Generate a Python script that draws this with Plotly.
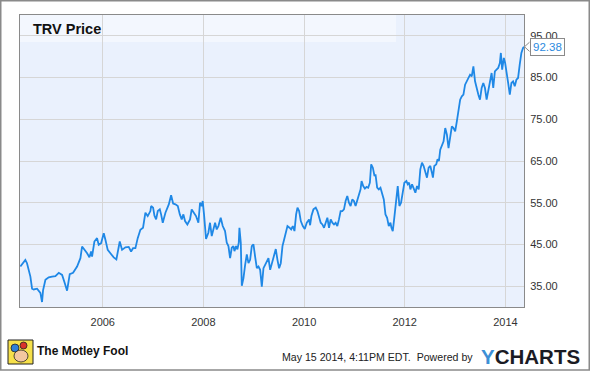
import datetime as dt
import plotly.graph_objects as go

# ---- data (decimal year, price) ----
years = [
    2004.364, 2004.430, 2004.463, 2004.496, 2004.530, 2004.563, 2004.596, 2004.629, 2004.695, 2004.728,
    2004.761, 2004.794, 2004.814, 2004.861, 2004.927, 2004.993, 2005.059, 2005.126, 2005.192, 2005.238,
    2005.291, 2005.344, 2005.410, 2005.490, 2005.556, 2005.589, 2005.642, 2005.689, 2005.735, 2005.768,
    2005.788, 2005.834, 2005.887, 2005.920, 2005.967, 2006.020, 2006.053, 2006.099, 2006.152, 2006.218,
    2006.271, 2006.338, 2006.384, 2006.450, 2006.516, 2006.563, 2006.602, 2006.649, 2006.695, 2006.748,
    2006.801, 2006.848, 2006.894, 2006.947, 2006.962, 2007.001, 2007.028, 2007.061, 2007.094, 2007.134,
    2007.160, 2007.193, 2007.246, 2007.280, 2007.313, 2007.359, 2007.399, 2007.445, 2007.492, 2007.532,
    2007.570, 2007.603, 2007.636, 2007.682, 2007.735, 2007.768, 2007.815, 2007.854, 2007.901, 2007.934,
    2007.967, 2007.987, 2008.013, 2008.033, 2008.053, 2008.099, 2008.132, 2008.166, 2008.199, 2008.232,
    2008.265, 2008.298, 2008.344, 2008.384, 2008.430, 2008.464, 2008.497, 2008.530, 2008.563, 2008.596,
    2008.616, 2008.649, 2008.675, 2008.702, 2008.715, 2008.742, 2008.762, 2008.795, 2008.828, 2008.861,
    2008.894, 2008.927, 2008.960, 2008.993, 2009.026, 2009.060, 2009.093, 2009.126, 2009.159, 2009.192,
    2009.225, 2009.258, 2009.291, 2009.325, 2009.358, 2009.391, 2009.437, 2009.470, 2009.503, 2009.536,
    2009.570, 2009.603, 2009.642, 2009.669, 2009.709, 2009.742, 2009.775, 2009.808, 2009.841, 2009.868,
    2009.901, 2009.934, 2009.974, 2010.013, 2010.053, 2010.099, 2010.119, 2010.145, 2010.185, 2010.231,
    2010.264, 2010.297, 2010.330, 2010.363, 2010.396, 2010.429, 2010.462, 2010.495, 2010.528, 2010.561,
    2010.594, 2010.627, 2010.660, 2010.693, 2010.726, 2010.759, 2010.792, 2010.825, 2010.858, 2010.891,
    2010.924, 2010.957, 2010.990, 2011.023, 2011.056, 2011.089, 2011.122, 2011.142, 2011.175, 2011.208,
    2011.241, 2011.274, 2011.307, 2011.333, 2011.366, 2011.399, 2011.419, 2011.452, 2011.485, 2011.518,
    2011.551, 2011.584, 2011.617, 2011.650, 2011.683, 2011.716, 2011.736, 2011.762, 2011.789, 2011.815,
    2011.835, 2011.861, 2011.894, 2011.927, 2011.960, 2011.993, 2012.033, 2012.059, 2012.086, 2012.112,
    2012.145, 2012.178, 2012.211, 2012.244, 2012.277, 2012.309, 2012.342, 2012.375, 2012.408, 2012.441,
    2012.474, 2012.507, 2012.539, 2012.559, 2012.586, 2012.625, 2012.651, 2012.678, 2012.704, 2012.737,
    2012.770, 2012.803, 2012.836, 2012.868, 2012.901, 2012.934, 2012.967, 2013.000, 2013.033, 2013.066,
    2013.099, 2013.132, 2013.164, 2013.197, 2013.230, 2013.263, 2013.296, 2013.329, 2013.362, 2013.395,
    2013.428, 2013.461, 2013.493, 2013.526, 2013.559, 2013.592, 2013.625, 2013.658, 2013.691, 2013.724,
    2013.757, 2013.789, 2013.822, 2013.855, 2013.888, 2013.908, 2013.934, 2013.967, 2013.993, 2014.020,
    2014.053, 2014.086, 2014.118, 2014.151, 2014.184, 2014.217, 2014.250, 2014.283, 2014.316, 2014.349,
    2014.368,
]
prices = [
    39.7, 40.9, 41.3, 40.5, 38.9, 37.3, 34.4, 34.2, 34.4, 34.0,
    33.4, 31.2, 34.0, 36.5, 37.1, 37.3, 37.4, 38.2, 37.7, 36.0,
    33.9, 37.9, 38.2, 39.7, 41.7, 44.5, 43.7, 42.9, 41.9, 43.3,
    42.1, 45.7, 46.5, 44.9, 45.3, 47.7, 46.1, 43.7, 42.9, 41.9,
    41.4, 45.7, 43.7, 44.3, 44.4, 43.3, 44.1, 44.1, 46.5, 48.5,
    49.0, 52.6, 51.8, 53.0, 54.2, 53.8, 51.9, 51.0, 53.0, 53.4,
    52.2, 50.2, 52.6, 53.8, 54.6, 56.8, 54.8, 54.6, 54.2, 52.2,
    51.0, 52.2, 50.6, 49.8, 51.0, 53.4, 52.6, 51.8, 50.2, 55.0,
    54.2, 55.4, 52.2, 49.4, 46.3, 47.8, 50.2, 47.0, 48.6, 50.2,
    48.6, 49.4, 51.4, 49.4, 48.2, 45.4, 44.6, 41.7, 44.2, 44.6,
    43.4, 44.6, 43.8, 45.4, 49.0, 45.4, 35.1, 36.9, 40.1, 42.6,
    40.5, 41.3, 44.6, 45.0, 42.1, 39.3, 39.7, 38.9, 34.9, 39.3,
    40.1, 40.9, 41.7, 38.9, 40.5, 42.1, 43.9, 41.3, 39.3, 40.5,
    44.6, 46.2, 48.6, 49.4, 49.0, 48.6, 49.4, 48.2, 52.2, 53.8,
    53.0, 50.6, 49.4, 48.7, 50.2, 51.0, 49.6, 51.8, 53.4, 53.8,
    53.0, 51.4, 50.2, 49.8, 49.0, 50.2, 51.4, 49.0, 51.0, 50.2,
    49.8, 50.2, 49.4, 51.0, 53.0, 53.0, 53.4, 55.4, 56.6, 55.0,
    54.2, 55.8, 55.4, 54.2, 55.4, 57.0, 58.2, 60.2, 59.0, 58.4,
    58.8, 58.6, 59.8, 64.2, 63.4, 61.4, 61.8, 58.6, 58.2, 58.6,
    57.0, 55.8, 52.2, 51.4, 49.4, 50.2, 49.0, 48.2, 51.0, 54.2,
    56.6, 59.0, 54.2, 55.0, 57.4, 59.8, 60.2, 59.4, 59.8, 58.2,
    59.4, 58.2, 57.4, 59.0, 58.2, 63.0, 64.6, 63.8, 62.6, 61.0,
    63.4, 63.8, 62.2, 61.0, 63.8, 64.2, 65.4, 65.0, 67.7, 68.5,
    69.7, 72.9, 71.3, 68.1, 70.5, 73.3, 72.9, 72.1, 74.5, 77.7,
    79.7, 80.5, 80.9, 83.3, 84.1, 84.9, 85.7, 85.3, 87.7, 84.1,
    82.1, 80.9, 79.7, 82.5, 83.7, 82.5, 79.7, 81.7, 84.5, 86.1,
    82.5, 86.5, 86.9, 87.3, 88.5, 90.9, 86.9, 89.7, 88.5, 85.7,
    83.7, 80.9, 83.7, 84.1, 82.9, 84.5, 84.9, 88.1, 90.9, 92.1,
    92.38,
]
x_ticks = ["2006-01-01", "2008-01-01", "2010-01-01", "2012-01-01", "2014-01-01"]
x_tick_labels = ["2006", "2008", "2010", "2012", "2014"]
y_ticks = [35, 45, 55, 65, 75, 85, 95]
title_text = "TRV Price"
stamp_text = "May 15 2014, 4:11PM EDT.  Powered by"


def to_date(d):
    y = int(d)
    start = dt.datetime(y, 1, 1)
    end = dt.datetime(y + 1, 1, 1)
    return start + (end - start) * (d - y)


dates = [to_date(v) for v in years]

W, H = 590, 371
ML, MR, MT, MB = 20, 66, 15, 64
PW, PH = W - ML - MR, H - MT - MB


def px(xp):
    return (xp - ML) / PW


def py(yp):
    return (H - MB - yp) / PH


fig = go.Figure()
fig.add_trace(go.Scatter(x=dates, y=prices, mode="lines",
                         line=dict(color="#1f88e6", width=1.8),
                         hoverinfo="x+y", showlegend=False))

last = prices[-1]
shapes = [
    # title band
    dict(type="rect", xref="paper", yref="paper", x0=0, x1=px(396), y0=py(42), y1=1,
         fillcolor="#f3f7fe", line=dict(width=0), layer="below"),
    # outer border
    dict(type="rect", xref="paper", yref="paper", x0=px(0.75), x1=px(W - 0.75),
         y0=py(H - 1), y1=py(0.75), line=dict(color="#8a8a8a", width=1.5)),
    # pointer of the last-price label
    dict(type="path", xref="paper", yref="y",
         path=f"M {px(529.5)},{last + 1.1} L {px(524.5)},{last} L {px(529.5)},{last - 1.1}",
         line=dict(color="#8a8a8a", width=1), fillcolor="white"),
    # logo approximation
    dict(type="rect", xref="paper", yref="paper", x0=px(8), x1=px(33), y0=py(364), y1=py(340),
         fillcolor="#f6e04a", line=dict(color="#222", width=1)),
    dict(type="circle", xref="paper", yref="paper", x0=px(11), x1=px(19), y0=py(352), y1=py(344),
         fillcolor="#2f7fd8", line=dict(color="#222", width=0.8)),
    dict(type="circle", xref="paper", yref="paper", x0=px(20), x1=px(27), y0=py(349), y1=py(342),
         fillcolor="#d9342b", line=dict(color="#222", width=0.8)),
    dict(type="circle", xref="paper", yref="paper", x0=px(14), x1=px(28), y0=py(362), y1=py(350),
         fillcolor="#f3c7a0", line=dict(color="#222", width=0.8)),
]

annotations = [
    dict(text=f"<b>{title_text}</b>", xref="paper", yref="paper", x=px(31), y=py(29),
         xanchor="left", yanchor="middle", showarrow=False,
         font=dict(family="Liberation Sans, Arial", size=14.5, color="#111")),
    dict(text=f"{last:.2f}", xref="paper", yref="y", x=px(529.5), y=last,
         xanchor="left", yanchor="middle", showarrow=False,
         bgcolor="white", bordercolor="#8a8a8a", borderwidth=1, borderpad=2,
         font=dict(family="Liberation Sans, Arial", size=11.5, color="#2b8ae0")),
    dict(text="<b>The Motley Fool</b>", xref="paper", yref="paper", x=px(35), y=py(351),
         xanchor="left", yanchor="middle", showarrow=False,
         font=dict(family="Liberation Sans Narrow, Liberation Sans, Arial", size=12, color="#111")),
    dict(text=stamp_text, xref="paper", yref="paper", x=px(475), y=py(357),
         xanchor="right", yanchor="middle", showarrow=False,
         font=dict(family="Liberation Sans, Arial", size=10.6, color="#222")),
    dict(text="<b><span style='color:#3d8fd6'>Y</span>CHARTS</b>", xref="paper", yref="paper",
         x=px(479), y=py(356), xanchor="left", yanchor="middle", showarrow=False,
         font=dict(family="Liberation Sans, Arial", size=20.5, color="#1b1b24")),
]

fig.update_layout(
    width=W, height=H,
    margin=dict(l=ML, r=MR, t=MT, b=MB, pad=0),
    paper_bgcolor="white",
    plot_bgcolor="#eaf1fd",
    shapes=shapes,
    annotations=annotations,
    showlegend=False,
    xaxis=dict(
        type="date",
        range=[to_date(2004.357), to_date(2014.368)],
        tickvals=x_ticks, ticktext=x_tick_labels,
        showgrid=True, gridcolor="#d6d6d6", gridwidth=1,
        showline=True, mirror=True, linecolor="#8a8a8a", linewidth=1,
        ticks="", ticklabelstandoff=5,
        tickfont=dict(family="Liberation Sans, Arial", size=11, color="#333"),
        zeroline=False, fixedrange=True,
    ),
    yaxis=dict(
        range=[30, 100], side="right",
        tickvals=y_ticks, tickformat=".2f",
        showgrid=True, gridcolor="#d6d6d6", gridwidth=1,
        showline=True, mirror=True, linecolor="#8a8a8a", linewidth=1,
        ticks="", ticklabelstandoff=3,
        tickfont=dict(family="Liberation Sans, Arial", size=11, color="#333"),
        zeroline=False, fixedrange=True,
    ),
)

fig.write_html("out.html", config=dict(displayModeBar=False),
               post_script="document.body.style.margin='0px';document.body.style.overflow='hidden';")
